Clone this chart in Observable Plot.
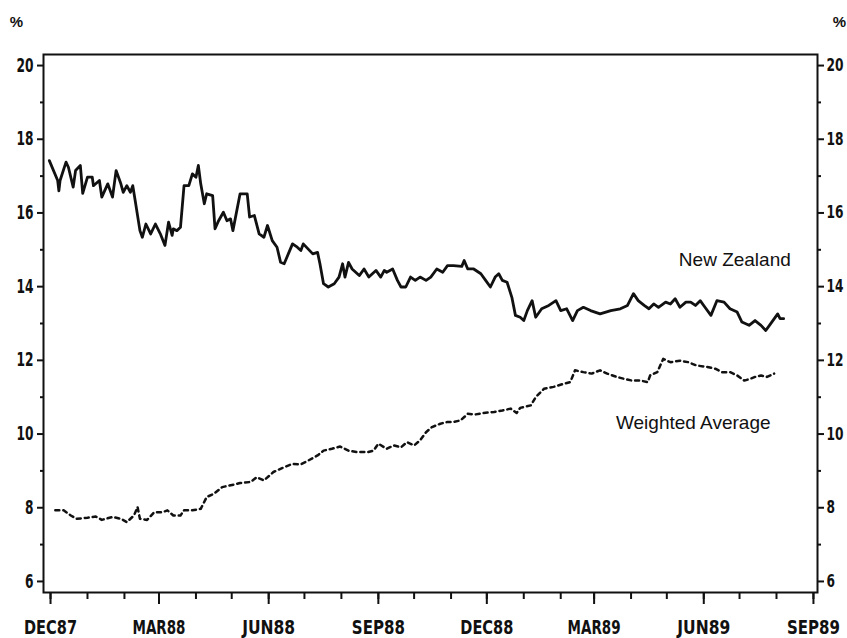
<!DOCTYPE html>
<html><head><meta charset="utf-8">
<script src="https://cdn.jsdelivr.net/npm/d3@7"></script>
<script src="https://cdn.jsdelivr.net/npm/@observablehq/plot@0.6"></script>
<style>
body{margin:0;background:#fff}
#chart svg [aria-label^="x-axis tick label"], #chart svg [aria-label^="y-axis tick label"]{
  font-family:"Liberation Sans Narrow","DejaVu Sans Condensed","DejaVu Sans","Arial Narrow",sans-serif;
  font-stretch:condensed;font-weight:bold;font-size:19px;}
#chart svg .right-labels text{font-size:17px;}
</style>
</head><body><div id="chart"></div>
<script>
// Days after 1 Dec 1987 and interest rate (%)
const nzDay = [-1,6,7,8,13,15,19,21,25,27,
  31,35,36,41,43,48,52,55,59,61,
  64,67,69,71,75,77,80,84,88,92,
  96,99,102,103,106,109,112,116,119,122,
  124,126,129,131,136,138,141,145,148,151,
  153,159,165,167,171,175,179,182,186,190,
  193,196,200,203,207,210,212,220,224,226,
  229,233,238,242,245,247,250,253,259,263,
  267,273,277,280,282,287,291,294,298,302,
  306,310,315,319,324,329,333,338,345,347,
  350,355,361,365,369,373,376,379,383,387,
  390,394,397,400,404,407,412,418,424,428,
  433,438,442,447,453,461,470,478,484,489,
  493,498,502,506,510,516,520,524,528,533,
  537,541,545,549,554,559,565,570,576,580,
  586,591,596,600,604,610,612,615];
const nzRate = [17.42,16.88,16.6,16.88,17.38,17.24,16.7,17.15,17.29,16.53,
  16.97,16.97,16.74,16.88,16.43,16.79,16.43,17.15,16.79,16.56,
  16.74,16.56,16.74,16.34,15.52,15.34,15.7,15.43,15.7,15.44,
  15.12,15.75,15.39,15.57,15.52,15.61,16.74,16.74,17.06,16.97,
  17.29,16.79,16.25,16.52,16.47,15.57,15.79,16.02,15.79,15.84,
  15.52,16.52,16.52,15.89,15.93,15.43,15.34,15.66,15.25,15.07,
  14.66,14.62,14.93,15.16,15.07,14.98,15.16,14.89,14.93,14.62,
  14.08,13.99,14.08,14.26,14.62,14.26,14.66,14.48,14.3,14.48,
  14.26,14.44,14.26,14.44,14.39,14.48,14.17,13.99,13.99,14.26,
  14.17,14.26,14.17,14.26,14.48,14.39,14.57,14.57,14.55,14.71,
  14.48,14.48,14.35,14.17,13.99,14.26,14.35,14.17,14.12,13.71,
  13.22,13.17,13.08,13.35,13.62,13.17,13.4,13.49,13.62,13.35,
  13.4,13.08,13.35,13.44,13.35,13.26,13.35,13.4,13.49,13.81,
  13.62,13.49,13.4,13.53,13.44,13.58,13.53,13.67,13.44,13.58,
  13.58,13.49,13.62,13.44,13.22,13.62,13.58,13.4,13.31,13.04,
  12.95,13.08,12.95,12.81,12.99,13.26,13.13,13.13];
const waDay = [4,11,17,22,31,38,43,52,59,64,
  70,73,75,81,87,94,98,103,109,112,
  119,126,131,137,144,154,159,168,173,179,
  187,196,203,210,215,224,229,236,243,250,
  257,266,271,275,282,288,294,299,305,310,
  315,320,327,333,338,344,350,356,363,372,
  379,386,391,394,403,407,414,422,431,436,
  440,447,454,461,467,475,481,488,495,501,
  503,509,514,520,528,535,542,551,558,563,
  570,576,582,587,591,596,601,607];
const waRate = [7.93,7.93,7.79,7.7,7.73,7.76,7.67,7.75,7.7,7.61,
  7.79,8.02,7.7,7.67,7.88,7.88,7.93,7.79,7.79,7.93,
  7.93,7.97,8.29,8.38,8.56,8.63,8.67,8.7,8.83,8.74,
  8.97,9.1,9.19,9.18,9.26,9.42,9.55,9.6,9.66,9.55,
  9.51,9.51,9.55,9.74,9.6,9.69,9.64,9.78,9.69,9.83,
  10.05,10.19,10.28,10.33,10.33,10.37,10.55,10.53,10.57,10.6,
  10.64,10.69,10.57,10.71,10.78,11.0,11.23,11.28,11.37,11.41,
  11.73,11.68,11.64,11.73,11.64,11.55,11.5,11.45,11.45,11.41,
  11.59,11.68,12.04,11.95,11.99,11.95,11.86,11.82,11.77,11.68,
  11.68,11.59,11.45,11.5,11.55,11.59,11.55,11.64];
const seriesNames = ["New Zealand", "Weighted Average"];
const xTickDates = ["1987-12-01","1988-03-01","1988-06-01","1988-09-01","1988-12-01","1989-03-01","1989-06-01","1989-09-01"];
const xTickLabels = ["DEC87","MAR88","JUN88","SEP88","DEC88","MAR89","JUN89","SEP89"];
const yTicks = [6,8,10,12,14,16,18,20];
const yTickLabels = ["6","8","10","12","14","16","18","20"];
const yMinorTicks = [7,9,11,13,15,17,19];
const unitLabel = "%";

const start = Date.UTC(1987, 11, 1);
const dayToDate = d => new Date(start + d * 864e5);
const nz = nzDay.map((d, i) => ({date: dayToDate(d), v: nzRate[i]}));
const wa = waDay.map((d, i) => ({date: dayToDate(d), v: waRate[i]}));
const majorDates = xTickDates.map(s => new Date(s + "T00:00:00Z"));
const xLabelMap = new Map(majorDates.map((d, i) => [+d, xTickLabels[i]]));
const yLabelMap = new Map(yTicks.map((t, i) => [t, yTickLabels[i]]));
const monthDates = d3.utcMonth.range(majorDates[0], dayToDate(641));

const chart = Plot.plot({
  width: 847, height: 638,
  marginLeft: 43, marginRight: 30, marginTop: 54, marginBottom: 46,
  style: {fontFamily: "'Liberation Sans', Arial, sans-serif", background: "#fff", color: "#111"},
  x: {type: "utc", domain: [dayToDate(-5.9), dayToDate(643.4)], label: null},
  y: {domain: [5.70, 20.30], label: null},
  marks: [
    Plot.frame({stroke: "#111", strokeWidth: 2}),
    Plot.axisX(monthDates, {tickSize: 7, strokeWidth: 2, tickFormat: () => ""}),
    Plot.axisX(majorDates, {tickSize: 12, tickPadding: 16, strokeWidth: 2, tickFormat: d => xLabelMap.get(+d)}),
    Plot.axisY(yMinorTicks, {anchor: "left", tickSize: 3, strokeWidth: 2, tickFormat: () => ""}),
    Plot.axisY(yMinorTicks, {anchor: "right", tickSize: 3, strokeWidth: 2, tickFormat: () => ""}),
    Plot.axisY(yTicks, {anchor: "left", tickSize: 6, tickPadding: 4, strokeWidth: 2, tickFormat: t => yLabelMap.get(t)}),
    Plot.axisY(yTicks, {anchor: "right", tickSize: 6, tickPadding: 3, strokeWidth: 2, tickFormat: t => yLabelMap.get(t), className: "right-labels"}),
    Plot.line(nz, {x: "date", y: "v", stroke: "#111", strokeWidth: 2.8, strokeLinejoin: "round"}),
    Plot.line(wa, {x: "date", y: "v", stroke: "#111", strokeWidth: 2.5, strokeDasharray: "4,4"}),
    Plot.text([seriesNames[0]], {x: dayToDate(621), y: 14.55, textAnchor: "end", lineAnchor: "bottom", fontSize: 19, fill: "#111"}),
    Plot.text([seriesNames[1]], {x: dayToDate(604), y: 10.15, textAnchor: "end", lineAnchor: "bottom", fontSize: 19, fill: "#111"}),
    Plot.text([unitLabel], {frameAnchor: "top-left", dx: -27, dy: -32, textAnchor: "middle", lineAnchor: "middle", fontSize: 15, fontWeight: "bold", fill: "#111"}),
    Plot.text([unitLabel], {frameAnchor: "top-right", dx: 22, dy: -32, textAnchor: "middle", lineAnchor: "middle", fontSize: 15, fontWeight: "bold", fill: "#111"})
  ]
});
// Narrow, tall tick lettering like the original typeface
const rightEdge = 847 - 30;
d3.select(chart).selectAll('[aria-label="x-axis tick label"] text').each(function() {
  const n = this.textContent.length;
  if (n) { this.setAttribute("textLength", n * 10.6); this.setAttribute("lengthAdjust", "spacingAndGlyphs"); }
});
d3.select(chart).selectAll('[aria-label="y-axis tick label"] text').each(function() {
  const n = this.textContent.length;
  if (n) { this.setAttribute("textLength", n * 8.5); this.setAttribute("lengthAdjust", "spacingAndGlyphs"); }
});
document.getElementById("chart").appendChild(chart);
</script>
</body></html>
